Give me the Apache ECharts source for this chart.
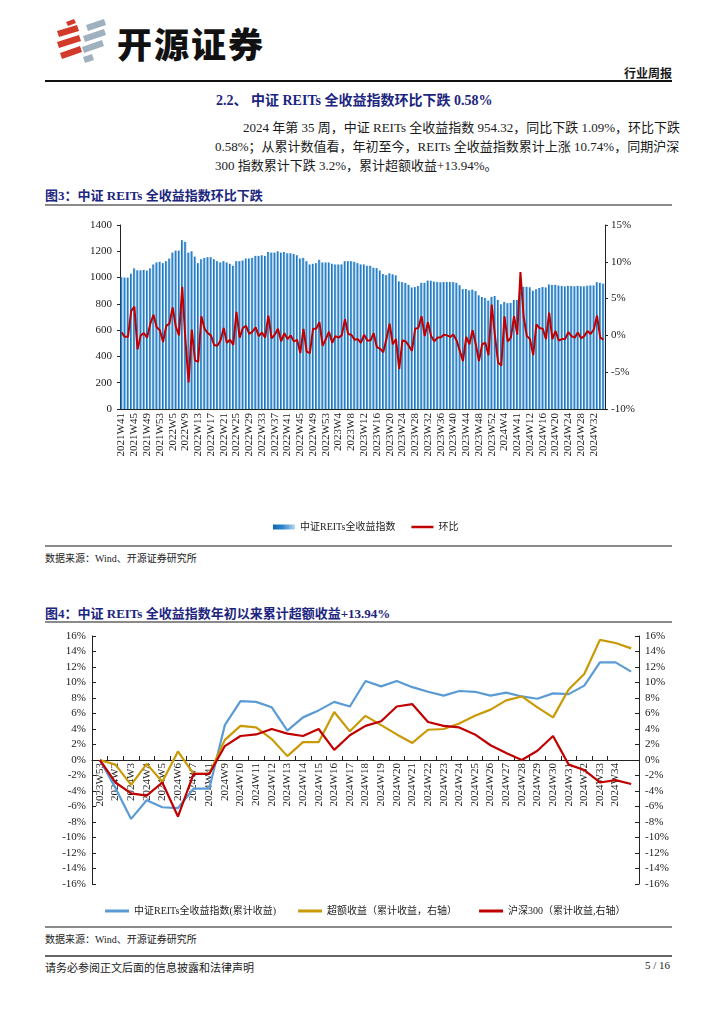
<!DOCTYPE html>
<html><head><meta charset="utf-8">
<script src="https://cdn.jsdelivr.net/npm/echarts/dist/echarts.min.js"></script>
<style>
body{margin:0;width:724px;height:1024px;position:relative;background:#fff;overflow:hidden;
 font-family:"Liberation Serif","Noto Sans CJK SC",serif;color:#1a1a1a}
.a{position:absolute;white-space:nowrap}
.hl{position:absolute;left:45px;width:627px}
.ttl{font-weight:bold;color:#1c2580;font-size:13px}
.para{position:absolute;left:215px;width:457px;font-size:13px;line-height:19px}
.para div{text-align:justify;text-align-last:justify;white-space:nowrap}
.src{font-size:10px;color:#222}
</style></head>
<body>
<svg class="a" style="left:48px;top:16px" width="64" height="52" viewBox="48 16 64 52">
 <g fill="#d23a2a">
  <polygon points="66,22 74,19 76,23 68,26"/>
  <polygon points="57,31 77,25 79,31 59,37"/>
  <polygon points="57,42 79,35 81,41 59,48"/>
  <polygon points="60,53 80,46 82,52 62,59"/>
 </g>
 <g fill="#9fb0bf">
  <polygon points="86,25 104,19 106,25 88,31"/>
  <polygon points="83,36 104,29 106,35 85,42"/>
  <polygon points="82,47 102,40 104,46 84,53"/>
  <polygon points="83,57 92,54 94,60 85,63"/>
 </g>
</svg>
<div class="a" style="left:117px;top:17px;font-family:'Noto Sans CJK SC';font-weight:900;font-size:35px;letter-spacing:2px;color:#111">开源证券</div>
<div class="a" style="left:624px;top:64px;font-size:12px;font-weight:bold;font-family:'Noto Sans CJK SC'">行业周报</div>
<div class="hl" style="top:80px;height:1.5px;background:#111"></div>

<div class="a ttl" style="left:216px;top:89px;font-size:14px">2.2、 中证 REITs 全收益指数环比下跌 0.58%</div>
<div class="para" style="top:118px">
 <div style="padding-left:28px">2024 年第 35 周，中证 REITs 全收益指数 954.32，同比下跌 1.09%，环比下跌</div>
 <div>0.58%；从累计数值看，年初至今，REITs 全收益指数累计上涨 10.74%，同期沪深</div>
 <div style="text-align-last:left">300 指数累计下跌 3.2%，累计超额收益+13.94%。</div>
</div>

<div class="a ttl" style="left:45px;top:185px">图3：中证 REITs 全收益指数环比下跌</div>
<div class="hl" style="top:204px;height:2px;background:#8a8a8a"></div>
<div id="c3" class="a" style="left:0;top:210px;width:724px;height:330px"></div>
<div class="hl" style="top:545px;height:2px;background:#8a8a8a"></div>
<div class="a src" style="left:45px;top:550px">数据来源：Wind、开源证券研究所</div>

<div class="a ttl" style="left:45px;top:603px">图4：中证 REITs 全收益指数年初以来累计超额收益+13.94%</div>
<div class="hl" style="top:621px;height:2px;background:#8a8a8a"></div>
<div id="c4" class="a" style="left:0;top:625px;width:724px;height:300px"></div>
<div class="hl" style="top:926px;height:2px;background:#8a8a8a"></div>
<div class="a src" style="left:45px;top:931px">数据来源：Wind、开源证券研究所</div>

<div class="hl" style="top:955px;height:2px;background:#666"></div>
<div class="a" style="left:45px;top:959px;font-size:11px">请务必参阅正文后面的信息披露和法律声明</div>
<div class="a" style="left:645px;top:959px;font-size:11px">5 / 16</div>

<script>
// ---------- Figure 3 data ----------
const weeks3 = [
 "2021W41","2021W42","2021W43","2021W44","2021W45","2021W46","2021W47","2021W48","2021W49","2021W50","2021W51","2021W52","2021W53",
 "2022W2","2022W3","2022W4","2022W5","2022W6","2022W7","2022W8","2022W9","2022W10","2022W11","2022W12","2022W13","2022W14","2022W15","2022W16","2022W17","2022W18","2022W19","2022W20","2022W21","2022W22","2022W23","2022W24","2022W25","2022W26","2022W27","2022W28","2022W29","2022W30","2022W31","2022W32","2022W33","2022W34","2022W35","2022W36","2022W37","2022W38","2022W39","2022W40","2022W41","2022W42","2022W43","2022W44","2022W45","2022W46","2022W47","2022W48","2022W49","2022W50","2022W51","2022W52","2022W53",
 "2023W1","2023W2","2023W3","2023W4","2023W5","2023W6","2023W7","2023W8","2023W9","2023W10","2023W11","2023W12","2023W13","2023W14","2023W15","2023W16","2023W17","2023W18","2023W19","2023W20","2023W21","2023W22","2023W23","2023W24","2023W25","2023W26","2023W27","2023W28","2023W29","2023W30","2023W31","2023W32","2023W33","2023W34","2023W35","2023W36","2023W37","2023W38","2023W39","2023W40","2023W41","2023W42","2023W43","2023W44","2023W45","2023W46","2023W47","2023W48","2023W49","2023W50","2023W51","2023W52","2023W53",
 "2024W2","2024W3","2024W4","2024W5","2024W6","2024W7","2024W41","2024W9","2024W10","2024W11","2024W12","2024W13","2024W14","2024W15","2024W16","2024W17","2024W18","2024W19","2024W20","2024W21","2024W22","2024W23","2024W24","2024W25","2024W26","2024W27","2024W28","2024W29","2024W30","2024W31","2024W32","2024W33","2024W34","2024W35"
];
const reitsIndex = [
 1003,1000,1000,1030,1070,1055,1055,1058,1053,1070,
 1100,1115,1120,1110,1125,1145,1190,1205,1205,1285,
 1272,1190,1200,1160,1110,1140,1150,1155,1155,1140,
 1125,1115,1125,1115,1105,1090,1125,1125,1130,1145,
 1145,1150,1165,1165,1170,1165,1195,1190,1190,1200,
 1190,1195,1185,1185,1180,1170,1145,1150,1125,1100,
 1105,1110,1135,1115,1115,1115,1105,1100,1100,1100,
 1125,1125,1125,1120,1110,1100,1100,1090,1090,1075,
 1072,1054,1027,1019,1032,1025,1017,971,966,959,
 945,925,928,936,960,960,977,976,970,966,
 964,966,966,966,966,960,942,912,913,903,
 908,897,865,852,845,825,853,860,830,797,
 815,805,807,830,830,901,930,929,926,900,
 912,921,928,925,948,944,945,939,936,933,
 937,936,934,937,934,933,938,940,940,965,
 960,954
];
const weekChange = [
 0.4,-0.2,-0.2,3.3,3.9,-1.9,0.0,0.3,-0.3,1.6,
 2.8,1.1,0.7,-0.9,1.3,1.6,3.8,1.2,0.0,6.6,
 -0.6,-6.4,0.8,-3.4,-3.6,2.6,0.9,0.3,0.0,-1.3,
 -1.4,-0.7,1.0,-1.0,-0.6,-1.3,3.2,-0.3,1.0,1.3,
 0.2,0.5,1.1,-0.1,0.4,-0.3,2.7,-0.4,0.1,0.9,
 -0.8,0.3,-0.5,0.0,-0.8,-0.6,-2.4,0.9,-2.2,-2.4,
 0.9,0.9,1.8,-1.4,-0.5,0.5,-1.0,-0.1,-0.3,0.0,
 2.2,0.2,0.1,-0.6,-0.5,-1.0,0.1,-0.7,-0.7,0.3,
 -1.6,-1.8,-2.3,-0.5,1.6,-1.2,-0.5,-4.6,-0.7,-0.8,
 -1.4,-2.1,0.9,1.0,2.6,-0.1,1.8,-0.1,-0.8,-0.3,
 -0.3,0.1,0.0,-0.2,0.1,-0.7,-2.1,-3.5,-0.2,-1.2,
 0.7,-1.2,-3.5,-1.2,-1.0,-2.7,4.2,0.0,-3.7,-4.1,
 2.6,-0.8,-0.3,2.6,0.1,8.6,2.5,-0.1,-0.5,-2.7,
 1.5,1.0,0.9,-0.5,3.1,-0.5,0.6,-0.7,-0.5,-0.5,
 0.45,-0.1,-0.3,0.4,-0.4,-0.1,0.6,0.2,0.8,2.7,
 -0.3,-0.58
];
const leftTicks3 = {min:0, max:1400, interval:200};
const rightTicks3 = {min:-10, max:15, interval:5};

// ---------- Figure 4 data ----------
const weeks4 = ["2023W53","2024W2","2024W3","2024W4","2024W5","2024W6","2024W7","2024W41","2024W9","2024W10","2024W11","2024W12","2024W13","2024W14","2024W15","2024W16","2024W17","2024W18","2024W19","2024W20","2024W21","2024W22","2024W23","2024W24","2024W25","2024W26","2024W27","2024W28","2024W29","2024W30","2024W31","2024W32","2024W33","2024W34","2024W35"];
const reitsCum = [0,-3.6,-7.6,-5.2,-6.1,-6.2,-3.7,-3.7,4.5,7.6,7.5,6.8,3.8,5.5,6.4,7.5,6.9,10.2,9.5,10.2,9.4,8.8,8.3,8.9,8.8,8.3,8.7,8.2,7.9,8.6,8.5,9.6,12.6,12.6,11.4];
const excessCum = [0,-0.6,-3.2,-0.5,-2.8,1.1,-1.8,-1.8,2.6,4.4,4.2,2.7,0.5,2.3,2.3,6.2,3.7,5.7,4.5,3.3,2.2,3.9,4.0,4.7,5.7,6.5,7.7,8.2,6.8,5.5,9.1,11.1,15.5,15.1,14.4];
const hs300Cum = [0,-2.9,-4.3,-4.6,-2.9,-7.3,-1.8,-1.8,1.8,3.1,3.3,4.0,3.4,3.1,4.0,1.3,3.2,4.4,5.0,6.9,7.2,4.9,4.4,4.2,3.3,1.9,0.9,0.0,1.2,3.1,-0.6,-1.3,-2.9,-2.6,-3.1];
const ticks4 = {min:-16, max:16, interval:2};

const FF = '"Liberation Serif","Noto Sans CJK SC",serif';
const lab = {fontFamily:FF, fontSize:11, color:'#1a1a1a'};
const axLine = {show:true, lineStyle:{color:'#222', width:1}};

const c3 = echarts.init(document.getElementById('c3'));
c3.setOption({
 animation:false,
 legend:{left:268, top:307, itemGap:16, itemWidth:22, itemHeight:5,
  textStyle:{fontFamily:FF, fontSize:10, color:'#222'},
  data:[{name:'中证REITs全收益指数', icon:'rect'}, {name:'环比', icon:'path://M0,0H22V2.5H0Z'}]},
 grid:{left:120, right:119, top:15, bottom:131, outerBoundsMode:'none'},
 xAxis:{type:'category', data:weeks3, axisLine:axLine, axisTick:{show:false},
  axisLabel:Object.assign({rotate:90, interval:3, margin:4}, lab)},
 yAxis:[
  Object.assign({type:'value', position:'left', axisLine:axLine, axisTick:{show:true, length:3, lineStyle:{color:'#222'}},
   splitLine:{show:false}, axisLabel:Object.assign({margin:8, formatter:(v)=>String(v)}, lab)}, leftTicks3),
  Object.assign({type:'value', position:'right', axisLine:axLine, axisTick:{show:true, length:3, lineStyle:{color:'#222'}},
   splitLine:{show:false}, axisLabel:Object.assign({margin:6, formatter:'{value}%'}, lab)}, rightTicks3)
 ],
 series:[
  {type:'bar', name:'中证REITs全收益指数', data:reitsIndex, barWidth:'74%',
   itemStyle:{color:new echarts.graphic.LinearGradient(0,0,1,0,[{offset:0,color:'#0a66b4'},{offset:0.45,color:'#2f86cc'},{offset:1,color:'#b9d9f2'}])}},
  {type:'line', name:'环比', yAxisIndex:1, data:weekChange, symbol:'none', z:5,
   itemStyle:{color:'#c00000'}, lineStyle:{color:'#c00000', width:2}}
 ]
});

const c4 = echarts.init(document.getElementById('c4'));
const yax4 = (pos)=>Object.assign({type:'value', position:pos, axisLine:axLine,
  axisTick:{show:true, inside:true, length:4, lineStyle:{color:'#222'}}, splitLine:{show:false},
  axisLabel:Object.assign({margin:6, formatter:'{value}%'}, lab)}, ticks4);
c4.setOption({
 animation:false,
 legend:{left:100, top:276, itemGap:22, itemWidth:24, itemHeight:3,
  textStyle:{fontFamily:FF, fontSize:10, color:'#222'},
  data:[{name:'中证REITs全收益指数(累计收益)', icon:'rect'},{name:'超额收益（累计收益，右轴）', icon:'rect'},{name:'沪深300（累计收益,右轴）', icon:'rect'}]},
 grid:{left:92, right:85, top:11, bottom:41, outerBoundsMode:'none'},
 xAxis:{type:'category', data:weeks4, offset:-124, axisLine:{show:true, onZero:false, lineStyle:{color:'#222'}},
  axisTick:{show:true, inside:true, length:4, lineStyle:{color:'#222'}},
  axisLabel:Object.assign({rotate:90, margin:3, interval:(i)=>i < weeks4.length-1}, lab)},
 yAxis:[yax4('left'), yax4('right')],
 series:[
  {type:'line', name:'中证REITs全收益指数(累计收益)', data:reitsCum, symbol:'none', itemStyle:{color:'#5b9bd5'}, lineStyle:{color:'#5b9bd5', width:2.2}},
  {type:'line', name:'超额收益（累计收益，右轴）', yAxisIndex:1, data:excessCum, symbol:'none', itemStyle:{color:'#c99a06'}, lineStyle:{color:'#c99a06', width:2.2}},
  {type:'line', name:'沪深300（累计收益,右轴）', yAxisIndex:1, data:hs300Cum, symbol:'none', itemStyle:{color:'#c00000'}, lineStyle:{color:'#c00000', width:2.2}}
 ]
});
</script>
</body></html>
